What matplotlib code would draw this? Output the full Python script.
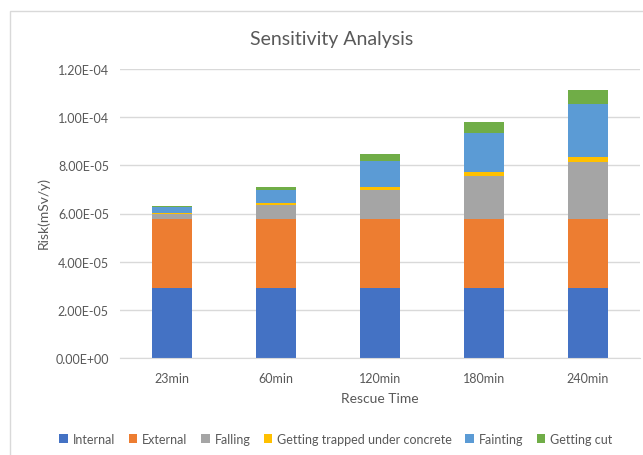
import matplotlib
matplotlib.use("Agg")
import matplotlib.pyplot as plt
from matplotlib.patches import Rectangle, Patch
import numpy as np

plt.rcParams['font.family'] = ['Lato', 'DejaVu Sans']

categories = ["23min", "60min", "120min", "180min", "240min"]
series_names = ["Internal", "External", "Falling", "Getting trapped under concrete", "Fainting", "Getting cut"]
internal = [2.89e-5, 2.89e-5, 2.89e-5, 2.89e-5, 2.89e-5]
external = [2.89e-5, 2.89e-5, 2.89e-5, 2.89e-5, 2.89e-5]
falling = [2.2e-6, 5.9e-6, 1.18e-5, 1.76e-5, 2.34e-5]
trapped = [0.4e-6, 0.8e-6, 1.2e-6, 1.8e-6, 2.2e-6]
fainting = [2.1e-6, 5.3e-6, 1.08e-5, 1.63e-5, 2.2e-5]
cut = [0.5e-6, 1.3e-6, 3.2e-6, 4.7e-6, 5.8e-6]
colors = ["#4472C4", "#ED7D31", "#A5A5A5", "#FFC000", "#5B9BD5", "#70AD47"]

W, H = 643, 456
fig = plt.figure(figsize=(W/100, H/100), dpi=100)
# chart border (cropped Excel chart)
fig.patches.append(Rectangle((10/W, -0.1), 1.2, 1 - 12/H + 0.1, transform=fig.transFigure,
                             fill=False, edgecolor="#D9D9D9", linewidth=1))

ax = fig.add_axes([120/W, (H-359)/H, (640-120)/W, (359-70)/H])
x = np.arange(len(categories))
bottom = np.zeros(len(categories))
for name, vals, c in zip(series_names, [internal, external, falling, trapped, fainting, cut], colors):
    ax.bar(x, vals, width=0.39, bottom=bottom, color=c, label=name, zorder=3)
    bottom += np.array(vals)

ax.set_ylim(0, 1.2e-4)
ax.set_xlim(-0.5, len(categories) - 0.5)
yt = np.arange(0, 1.21e-4, 2e-5)
ax.set_yticks(yt)
ax.set_yticklabels([f"{v:.2E}" for v in yt])
ax.set_xticks(x)
ax.set_xticklabels(categories)
ax.tick_params(axis='both', length=0, labelsize=9, colors="#595959")
ax.tick_params(axis='y', pad=8)
ax.tick_params(axis='x', pad=10)
ax.grid(axis='y', color="#D9D9D9", linewidth=1, zorder=0)
for s in ["top", "right", "left"]:
    ax.spines[s].set_visible(False)
ax.spines["bottom"].set_color("#D9D9D9")
ax.spines["bottom"].set_zorder(4)

ax.set_xlabel("Rescue Time", fontsize=10, color="#595959", labelpad=6)
fig.text(43/W, 1 - 213/H, "Risk(mSv/y)", rotation=90, ha="center", va="center", fontsize=10, color="#595959")
fig.text(332/W, 1 - 40/H, "Sensitivity Analysis", ha="center", va="center", fontsize=14, color="#595959")

handles = [Patch(facecolor=c, edgecolor="none") for c in colors]
fig.legend(handles, series_names, loc="center", bbox_to_anchor=(336/W, 1 - 440/H), ncol=6, frameon=False,
           fontsize=9, handlelength=0.7, handleheight=0.7, handletextpad=0.4, columnspacing=1.05,
           labelcolor="#595959")

fig.savefig("out.png", dpi=100)
